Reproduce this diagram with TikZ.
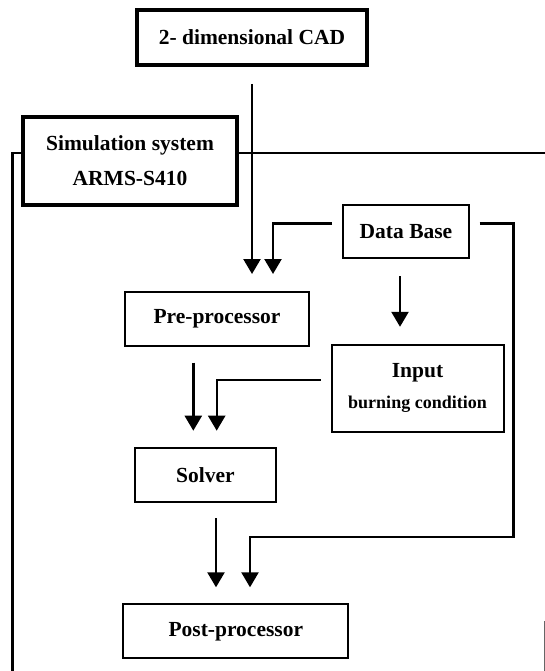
\documentclass[tikz,border=0pt]{standalone}
\usepackage{fontspec}
\setmainfont{Liberation Serif}
\usetikzlibrary{positioning}
\usetikzlibrary{arrows.meta}
\colorlet{linec}{black}

\tikzset{
  box/.style={draw=linec, line width=2pt, shape=rectangle, inner sep=0pt,
    font=\fontsize{21.5}{26}\selectfont\bfseries},
  heavybox/.style={box, line width=4pt},
  flow/.style={draw=linec, line width=2.4pt,
    -{Triangle[length=15pt,width=17pt]}},
  frame/.style={draw=linec, line width=2.2pt}
}

\begin{document}
\begin{tikzpicture}[x=1pt,y=-1pt]
\useasboundingbox (0,0) rectangle (545,671);

% the blocks
\node[heavybox, minimum width=230pt, minimum height=55pt]
(cad) at (252,37.5) {2- dimensional CAD};
\node[heavybox, minimum width=214pt, minimum height=88pt, align=center,
  font=\fontsize{21.5}{35}\selectfont\bfseries]
(sim) at (130,161) {Simulation system\\ARMS-S410};
\node[box, minimum width=126pt, minimum height=53pt]
(db) at (406,231.5) {Data Base};
\node[box, minimum width=184pt, minimum height=54pt]
(pre) at (217,319) {Pre-processor};
\node[box, minimum width=172pt, minimum height=87pt, align=center,
  font=\fontsize{21.5}{31}\selectfont\bfseries]
(inp) at (417.5,388.3) {Input\\{\fontsize{18}{31}\selectfont burning condition}};
\node[box, minimum width=141pt, minimum height=54pt]
(solver) at (205.5,475.3) {Solver};
\node[box, minimum width=225pt, minimum height=54pt]
(post) at (235.8,631.3) {Post-processor};

% bend points of the long return line
\coordinate (ret) at (513.3,536.7);
\coordinate (frameR) at (545,153);
\coordinate (frameL) at (12.5,671);
\coordinate (edgeT) at (544,621);
\coordinate (edgeB) at (544,671);

% system frame
\draw[frame] ([yshift=8pt]sim.east) -- (frameR);
\draw[frame] ([yshift=8pt]sim.west) -| (frameL);
\draw[linec!60, line width=1pt] (edgeT) -- (edgeB);

% data flow
\draw[flow, shorten <=17pt, shorten >=17pt] (cad.south) -- ([xshift=35pt]pre.north);
\draw[flow, shorten <=10pt, shorten >=17pt] ([yshift=8.2pt]db.west) -| ([xshift=56pt]pre.north);
\draw[flow, shorten <=17pt, shorten >=17pt] ([xshift=-6pt]db.south) -- ([xshift=-17.5pt]inp.north);
\draw[flow, shorten <=9.5pt, shorten >=16pt] ([yshift=8.2pt]db.east) -| (ret) -| ([xshift=14.2pt]post.north);
\draw[flow, shorten <=15.7pt, shorten >=16.6pt] ([xshift=-23.7pt]pre.south) -- ([xshift=-12.2pt]solver.north);
\draw[flow, shorten <=10pt, shorten >=16.6pt] ([yshift=8.3pt]inp.west) -| ([xshift=11.2pt]solver.north);
\draw[flow, shorten <=15pt, shorten >=16pt] ([xshift=10.5pt]solver.south) -- ([xshift=-19.8pt]post.north);

\end{tikzpicture}
\end{document}
